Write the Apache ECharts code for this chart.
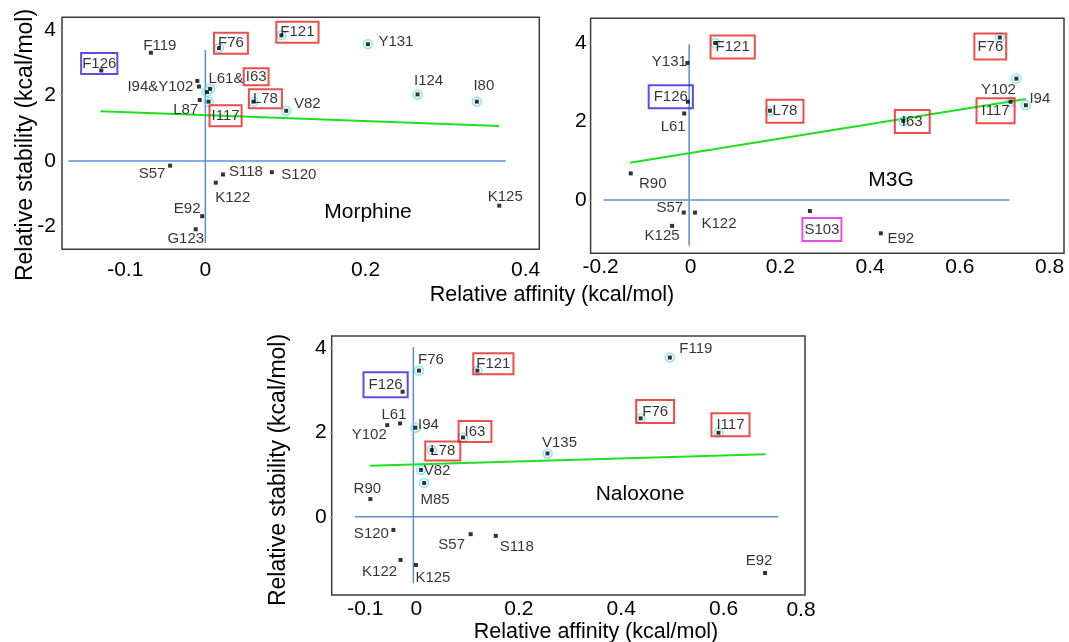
<!DOCTYPE html>
<html><head><meta charset="utf-8">
<script src="https://cdn.jsdelivr.net/npm/echarts@6/dist/echarts.min.js"></script>
<style>html,body{margin:0;padding:0;background:#fff}#c{width:1069px;height:642px}</style>
</head><body><div id="c"></div>
<script>
// ================= DATA =================
// ---- Morphine ----
const morphineText = ['F126','F119','F76','F121','Y131','I94&Y102','','L61&','I63','L87','I117','L78','V82','I124','I80','S57','S118','K122','S120','E92','G123','K125'];
const morphineAffinity = [-0.130,-0.068,0.017,0.095,0.203,-0.010,-0.008,0.002,0.006,-0.007,0.004,0.060,0.101,0.265,0.339,-0.044,0.022,0.013,0.083,-0.004,-0.012,0.367];
const morphineStability = [2.76,3.30,3.44,3.83,3.56,2.44,2.27,2.10,2.20,1.86,1.81,1.81,1.53,2.03,1.81,-0.14,-0.41,-0.66,-0.34,-1.68,-2.08,-1.36];
const morphineRing = [0,0,1,1,1,0,0,1,1,0,1,1,1,1,1,0,0,0,0,0,0,0];
const morphineBox = ['blue','','red','red','','','','','red','','red','red','','','','','','','','','',''];
const morphineXTicks = [-0.1,0,0.2,0.4];
const morphineYTicks = [-2,0,2,4];
const morphineHLineX = [-0.171,0.375];
const morphineVLineY = [3.38,-2.5];
const morphineFitX = [-0.131,0.367];
const morphineFitY = [1.52,1.07];

// ---- M3G ----
const m3gText = ['F121','Y131','F126','L61','L78','I63','F76','Y102','I117','I94','R90','S57','K122','K125','S103','E92'];
const m3gAffinity = [0.055,-0.007,-0.006,-0.014,0.177,0.474,0.689,0.726,0.713,0.747,-0.133,-0.015,0.010,-0.041,0.266,0.424];
const m3gStability = [4.01,3.50,2.51,2.21,2.28,2.02,4.15,3.10,2.51,2.42,0.68,-0.32,-0.32,-0.66,-0.28,-0.85];
const m3gRing = [1,0,0,0,1,1,1,1,1,1,0,0,0,0,0,0];
const m3gBox = ['red','','blue','','red','red','red','','red','','','','','','magenta',''];
const m3gXTicks = [-0.2,0,0.2,0.4,0.6,0.8];
const m3gYTicks = [0,2,4];
const m3gHLineX = [-0.194,0.710];
const m3gVLineY = [3.98,-1.17];
const m3gFitX = [-0.135,0.747];
const m3gFitY = [0.95,2.58];

// ---- Naloxone ----
const naloxoneText = ['F76','F121','F119','F126','L61','Y102','I94','I63','L78','V135','F76','I117','V82','M85','R90','S120','S57','S118','K122','K125','E92'];
const naloxoneAffinity = [0.005,0.119,0.495,-0.027,-0.032,-0.057,-0.002,0.091,0.030,0.256,0.438,0.590,0.009,0.015,-0.090,-0.045,0.106,0.155,-0.031,-0.001,0.681];
const naloxoneStability = [3.46,3.46,3.77,2.96,2.21,2.17,2.11,1.88,1.58,1.50,2.33,1.99,1.11,0.80,0.42,-0.31,-0.41,-0.45,-1.02,-1.14,-1.33];
const naloxoneRing = [1,1,1,0,0,0,1,1,1,1,1,1,1,1,0,0,0,0,0,0,0];
const naloxoneBox = ['','red','','blue','','','','red','red','','red','red','','','','','','','','',''];
const naloxoneXTicks = [-0.1,0,0.2,0.4,0.6,0.8];
const naloxoneYTicks = [0,2,4];
const naloxoneHLineX = [-0.120,0.707];
const naloxoneVLineY = [4.02,-1.58];
const naloxoneFitX = [-0.091,0.682];
const naloxoneFitY = [1.21,1.48];

// ================= STYLE / LAYOUT =================
const FONT = '"Liberation Sans", Arial, sans-serif';
const boxColors = {red:'#e8201f', blue:'#3020dc', magenta:'#e61ee6'};

const morphineLabelOffset = [[-2,-7],[9,-7],[12,-5],[16,-3],[28,-2],[-37,6],[0,0],[19,-13],[46,-12],[-14,10],[17,14],[12,-3],[21,-7],[11,-14],[7,-16],[-18,8],[23,-3],[17,15],[27,3],[-15,-7],[-10,10],[6,-9]];
const morphinePad = {0:[3,1],2:[3,4],3:[3,4],8:[1,2],10:[3,2],11:[2,4]};
const m3gLabelOffset = [[17.5,4],[-18,-1],[-17,-5],[-11,13],[15,0.5],[9,0.7],[-9.5,9],[-18,11],[-15,9],[14,-6],[22,10],[-14,-5],[24,11],[-10,10],[12,18.5],[20,6]];
const m3gPad = {0:[4,5],2:[4,5],4:[4,6],5:[4,7],6:[10,3,1,3],8:[5,5],14:[4,2]};
const naloxoneLabelOffset = [[12,-11],[16,-7],[26,-9],[-17,-7],[-6,-9],[-18,10],[13,-3],[12,-6],[11,1],[12,-11],[14.5,-7],[12,-8],[16,1],[11,17],[-3,-10],[-22,4],[-19,11],[21,11],[-21,12],[17,13],[-6,-12]];
const naloxonePad = {1:[3,3],3:[5,5],7:[3,6],8:[2,5],10:[4,6],11:[4,5]};

const panels = [
  {text:morphineText, aff:morphineAffinity, stab:morphineStability, ring:morphineRing, box:morphineBox,
   xTicks:morphineXTicks, yTicks:morphineYTicks, hLineX:morphineHLineX, vLineX:0, vLineY:morphineVLineY,
   fitX:morphineFitX, fitY:morphineFitY, off:morphineLabelOffset, pad:morphinePad,
   grid:{left:62, top:17.3, width:477.3, height:232}, xMin:-0.179, xMax:0.417, yMin:-2.69, yMax:4.38,
   xMargin:10, yMargin:6, yPad:[6,0,0,0]},
  {text:m3gText, aff:m3gAffinity, stab:m3gStability, ring:m3gRing, box:m3gBox,
   xTicks:m3gXTicks, yTicks:m3gYTicks, hLineX:m3gHLineX, vLineX:-0.003, vLineY:m3gVLineY,
   fitX:m3gFitX, fitY:m3gFitY, off:m3gLabelOffset, pad:m3gPad,
   grid:{left:590.6, top:18.3, width:473.4, height:235}, xMin:-0.2225, xMax:0.832, yMin:-1.36, yMax:4.64,
   xMargin:3, yMargin:4, yPad:[0,0,0,0]},
  {text:naloxoneText, aff:naloxoneAffinity, stab:naloxoneStability, ring:naloxoneRing, box:naloxoneBox,
   xTicks:naloxoneXTicks, yTicks:naloxoneYTicks, hLineX:naloxoneHLineX, vLineX:-0.006, vLineY:naloxoneVLineY,
   fitX:naloxoneFitX, fitY:naloxoneFitY, off:naloxoneLabelOffset, pad:naloxonePad,
   grid:{left:331.7, top:336, width:473.3, height:259}, xMin:-0.1655, xMax:0.759, yMin:-1.85, yMax:4.28,
   xMargin:4, yMargin:5, yPad:[8,0,0,0]}
];

const grids = [], xAxes = [], yAxes = [], series = [];
panels.forEach((p, i) => {
  grids.push(Object.assign({show:true, borderColor:'#3c3c3c', borderWidth:1.5, containLabel:false, outerBoundsMode:'none'}, p.grid));
  xAxes.push({type:'value', gridIndex:i, min:p.xMin, max:p.xMax,
    axisLine:{show:false, onZero:false}, axisTick:{show:false}, splitLine:{show:false},
    axisLabel:{customValues:p.xTicks.filter(v => v >= p.xMin && v <= p.xMax), fontSize:21, fontFamily:FONT, color:'#000', margin:p.xMargin}});
  yAxes.push({type:'value', gridIndex:i, min:p.yMin, max:p.yMax,
    axisLine:{show:false, onZero:false}, splitLine:{show:false},
    axisTick:{show:true, length:2, customValues:p.yTicks, lineStyle:{color:'#8fc0e0', width:1}},
    axisLabel:{customValues:p.yTicks, fontSize:21, fontFamily:FONT, color:'#000', margin:p.yMargin, padding:p.yPad}});
  const lineBase = {type:'line', xAxisIndex:i, yAxisIndex:i, symbol:'none', silent:true};
  series.push(Object.assign({}, lineBase, {z:1, lineStyle:{color:'#5a8fd2', width:1.5},
    data:[[p.hLineX[0], 0], [p.hLineX[1], 0]]}));
  series.push(Object.assign({}, lineBase, {z:1, lineStyle:{color:'#5a8fd2', width:1.5},
    data:[[p.vLineX, p.vLineY[0]], [p.vLineX, p.vLineY[1]]]}));
  series.push(Object.assign({}, lineBase, {z:2, lineStyle:{color:'#1fe01f', width:2},
    data:[[p.fitX[0], p.fitY[0]], [p.fitX[1], p.fitY[1]]]}));
  const rings = [];
  p.aff.forEach((x, k) => { if (p.ring[k]) rings.push([x, p.stab[k]]); });
  series.push({type:'scatter', xAxisIndex:i, yAxisIndex:i, z:3, symbol:'circle', symbolSize:9, silent:true,
    itemStyle:{color:'rgba(0,0,0,0)', borderColor:'#6ee2ee', borderWidth:1.5}, data:rings});
  const dots = p.aff.map((x, k) => {
    const lab = {show:!!p.text[k], formatter:p.text[k] || '', position:'inside', offset:p.off[k],
      fontSize:15, fontFamily:FONT, color:'#000'};
    if (p.box[k]) Object.assign(lab, {borderColor:boxColors[p.box[k]], borderWidth:2, padding:p.pad[k] || [3,4]});
    return {value:[x, p.stab[k]], label:lab};
  });
  series.push({type:'scatter', xAxisIndex:i, yAxisIndex:i, z:4, symbol:'rect', symbolSize:4, silent:true,
    itemStyle:{color:'#000'}, data:dots});
});

function txt(x, y, text, size, rot) {
  return {type:'text', x:x, y:y, rotation:rot || 0, z:10, silent:true,
    style:{text:text, fontSize:size, fontFamily:FONT, fill:'#000', align:'center', verticalAlign:'middle',
           textAlign:'center', textVerticalAlign:'middle'}};
}
const graphics = [
  txt(26, 145, 'Relative stability (kcal/mol)', 23, Math.PI/2),
  txt(279, 470, 'Relative stability (kcal/mol)', 23, Math.PI/2),
  txt(552, 295, 'Relative affinity (kcal/mol)', 21.5),
  txt(596, 632, 'Relative affinity (kcal/mol)', 21.5),
  txt(368, 212, 'Morphine', 21),
  txt(891, 180, 'M3G', 21),
  txt(640, 494, 'Naloxone', 21)
];
// tick labels of the Naloxone x axis beyond the plotted range sit at the frame's right edge
naloxoneXTicks.filter(v => v > panels[2].xMax).forEach(v => {
  graphics.push(txt(panels[2].grid.left + panels[2].grid.width - 4, 610, String(v), 21));
});

const chart = echarts.init(document.getElementById('c'), null, {renderer:'canvas'});
chart.setOption({
  animation:false,
  backgroundColor:'#fff',
  grid:grids, xAxis:xAxes, yAxis:yAxes, series:series, graphic:graphics
});
</script></body></html>
